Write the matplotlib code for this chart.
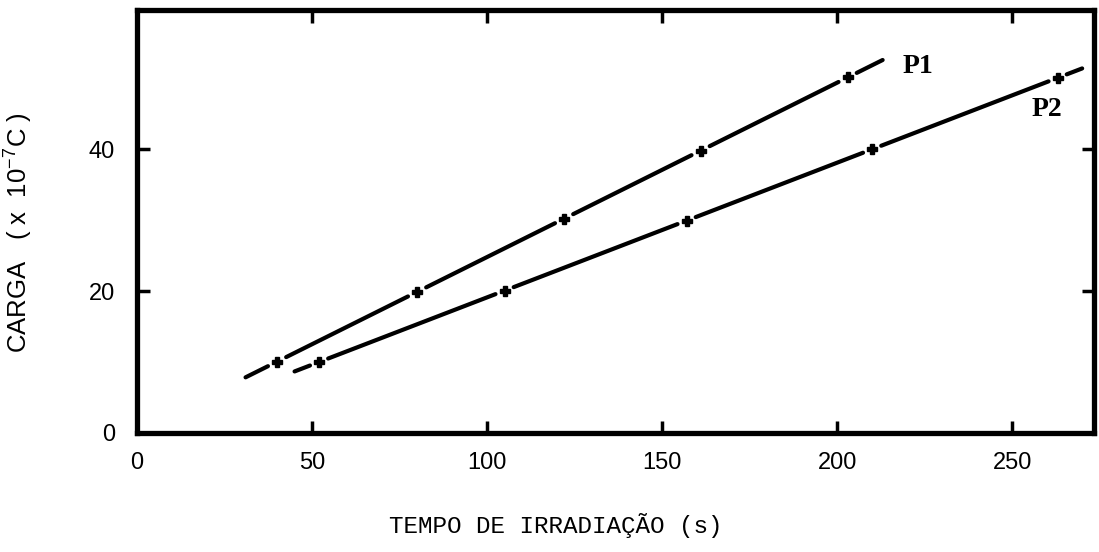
import matplotlib
matplotlib.use("Agg")
from matplotlib import pyplot as plt
import numpy as np

# irradiation time (s) read at each charge step
carga = [10, 20, 30, 40, 50]
tempo_p1 = [40, 80, 122, 161, 203]
tempo_p2 = [52, 105, 157, 210, 263]

# time span covered by each fitted line
faixa_p1 = [31, 213]
faixa_p2 = [45, 270]

x_ticks = [0, 50, 100, 150, 200, 250]
y_ticks = [0, 20, 40]

fig = plt.figure(figsize=(10.99, 5.52), dpi=100)
ax = fig.add_axes([0.1247, 0.2156, 0.8708, 0.7663])

gap = 2.6  # break left in the line around each point


def draw_series(tempo, faixa, label, label_pos):
    a, b = np.polyfit(tempo, carga, 1)
    bounds = [faixa[0]] + list(tempo) + [faixa[1]]
    for i in range(len(bounds) - 1):
        x0 = bounds[i] + (gap if i > 0 else 0)
        x1 = bounds[i + 1] - (gap if i < len(bounds) - 2 else 0)
        xs = np.array([x0, x1])
        ax.plot(xs, a * xs + b, color="black", lw=3.0,
                solid_capstyle="round")
    ax.plot(tempo, a * np.array(tempo) + b, linestyle="none", marker="P",
            ms=6.5, color="black")
    ax.text(label_pos[0], label_pos[1], label, fontsize=20,
            fontfamily="Liberation Serif", fontweight="bold",
            ha="center", va="center")


draw_series(tempo_p1, faixa_p1, "P1", (223, 51.7))
draw_series(tempo_p2, faixa_p2, "P2", (260, 45.6))

ax.set_xlim(0, 273.4)
ax.set_ylim(0, 59.6)
ax.set_xticks(x_ticks)
ax.set_yticks(y_ticks)

for s in ax.spines.values():
    s.set_linewidth(3.8)

ax.tick_params(direction="in", length=9, width=2.5, top=True, right=True,
               labelsize=17)
ax.tick_params(axis="x", pad=14)
ax.tick_params(axis="y", pad=16)
for lab in ax.get_xticklabels() + ax.get_yticklabels():
    lab.set_fontfamily("Liberation Sans")

ax.set_xlabel("TEMPO DE IRRADIAÇÃO (s)", fontsize=17.5,
              fontfamily="Liberation Mono")
ax.xaxis.set_label_coords(0.437, -0.19)

ax.set_ylabel(r"CARGA   ( x  10$^{\mathregular{-7}}$C )", fontsize=18.5,
              fontfamily="Liberation Sans")
ax.yaxis.set_label_coords(-0.108, 0.475)

plt.savefig("out.png", dpi=100)
